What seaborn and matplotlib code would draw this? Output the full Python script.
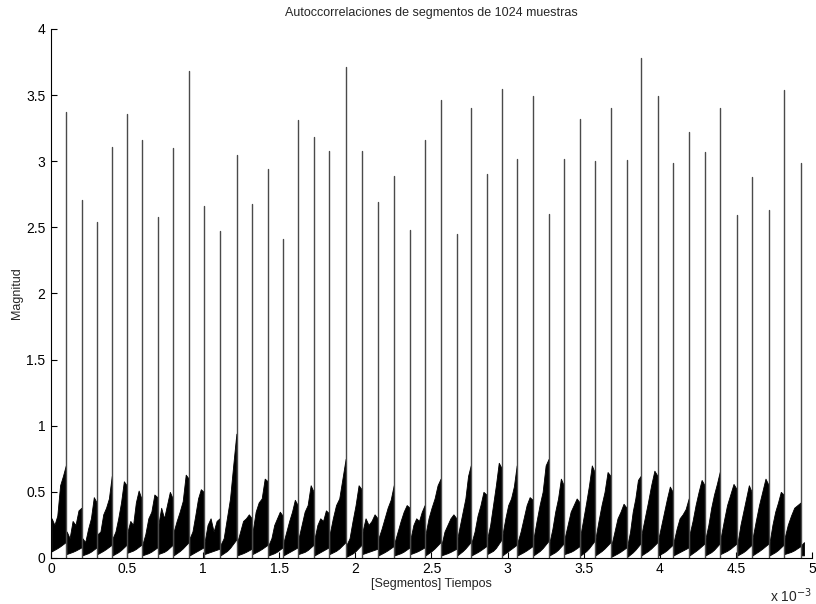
import numpy as np
import pandas as pd
import matplotlib
matplotlib.use("Agg")
import matplotlib.pyplot as plt
import seaborn as sns

# Peak positions (x 10^-3 s) and autocorrelation peak heights
peak_x = [0.099, 0.202, 0.302, 0.401, 0.499, 0.596, 0.701, 0.802, 0.907, 1.005,
          1.110, 1.220, 1.321, 1.426, 1.524, 1.623, 1.728, 1.827, 1.938, 2.043,
          2.148, 2.254, 2.359, 2.457, 2.562, 2.666, 2.760, 2.863, 2.963, 3.062,
          3.167, 3.272, 3.371, 3.476, 3.574, 3.679, 3.784, 3.876, 3.988, 4.087,
          4.192, 4.297, 4.396, 4.508, 4.606, 4.718, 4.816, 4.928]
peak_y = [3.37, 2.71, 2.54, 3.11, 3.36, 3.16, 2.58, 3.10, 3.68, 2.66,
          2.47, 3.05, 2.68, 2.94, 2.41, 3.31, 3.18, 3.08, 3.71, 3.08,
          2.69, 2.89, 2.48, 3.16, 3.46, 2.45, 3.40, 2.90, 3.55, 3.02,
          3.49, 2.60, 3.02, 3.32, 3.00, 3.40, 3.01, 3.78, 3.49, 2.99,
          3.22, 3.07, 3.40, 2.59, 2.88, 2.63, 3.54, 2.99]

# Upper envelope of the low-level part between consecutive peaks
seg_top = [
    [0.30, 0.25, 0.32, 0.55, 0.62, 0.70], [0.20, 0.15, 0.28, 0.25, 0.36, 0.38],
    [0.15, 0.12, 0.22, 0.30, 0.46, 0.42], [0.18, 0.20, 0.33, 0.38, 0.45, 0.62],
    [0.15, 0.20, 0.30, 0.42, 0.58, 0.55], [0.20, 0.28, 0.25, 0.42, 0.51, 0.45],
    [0.10, 0.18, 0.30, 0.35, 0.48, 0.46], [0.25, 0.38, 0.30, 0.40, 0.50, 0.45],
    [0.20, 0.28, 0.35, 0.43, 0.63, 0.60], [0.15, 0.20, 0.32, 0.45, 0.52, 0.50],
    [0.12, 0.25, 0.30, 0.20, 0.28, 0.30], [0.10, 0.15, 0.30, 0.45, 0.70, 0.94],
    [0.12, 0.20, 0.28, 0.30, 0.33, 0.30], [0.20, 0.35, 0.42, 0.45, 0.60, 0.58],
    [0.10, 0.15, 0.25, 0.30, 0.35, 0.32], [0.12, 0.20, 0.28, 0.35, 0.44, 0.40],
    [0.15, 0.25, 0.35, 0.40, 0.55, 0.50], [0.15, 0.25, 0.30, 0.28, 0.36, 0.34],
    [0.18, 0.30, 0.40, 0.45, 0.60, 0.75], [0.10, 0.15, 0.28, 0.40, 0.55, 0.52],
    [0.20, 0.30, 0.25, 0.28, 0.33, 0.30], [0.15, 0.22, 0.30, 0.38, 0.44, 0.55],
    [0.12, 0.20, 0.28, 0.35, 0.40, 0.38], [0.15, 0.25, 0.30, 0.28, 0.35, 0.40],
    [0.18, 0.30, 0.38, 0.45, 0.55, 0.60], [0.10, 0.20, 0.25, 0.30, 0.33, 0.30],
    [0.15, 0.25, 0.35, 0.45, 0.62, 0.70], [0.12, 0.20, 0.32, 0.40, 0.50, 0.48],
    [0.15, 0.25, 0.40, 0.55, 0.72, 0.68], [0.18, 0.30, 0.40, 0.45, 0.54, 0.70],
    [0.12, 0.20, 0.30, 0.40, 0.46, 0.44], [0.15, 0.28, 0.40, 0.50, 0.70, 0.75],
    [0.12, 0.22, 0.35, 0.45, 0.60, 0.55], [0.15, 0.25, 0.35, 0.40, 0.45, 0.42],
    [0.18, 0.30, 0.42, 0.55, 0.70, 0.65], [0.15, 0.28, 0.40, 0.50, 0.65, 0.62],
    [0.10, 0.20, 0.30, 0.35, 0.41, 0.38], [0.10, 0.20, 0.35, 0.45, 0.59, 0.62],
    [0.18, 0.30, 0.42, 0.55, 0.66, 0.62], [0.15, 0.25, 0.35, 0.45, 0.54, 0.50],
    [0.12, 0.22, 0.30, 0.33, 0.37, 0.45], [0.18, 0.28, 0.40, 0.50, 0.59, 0.55],
    [0.15, 0.25, 0.38, 0.48, 0.56, 0.65], [0.15, 0.28, 0.40, 0.48, 0.56, 0.52],
    [0.12, 0.25, 0.35, 0.45, 0.55, 0.50], [0.15, 0.28, 0.40, 0.50, 0.60, 0.55],
    [0.12, 0.25, 0.35, 0.42, 0.50, 0.48], [0.15, 0.25, 0.32, 0.38, 0.40, 0.42],
    [0.10, 0.12],
]
# Lower envelope of the same stretches
seg_bottom = [
    [0.05, 0.08, 0.12], [0.03, 0.05, 0.08], [0.02, 0.04, 0.08], [0.03, 0.06, 0.10],
    [0.02, 0.05, 0.10], [0.04, 0.06, 0.10], [0.02, 0.04, 0.08], [0.03, 0.05, 0.10],
    [0.02, 0.06, 0.12], [0.02, 0.05, 0.08], [0.03, 0.05, 0.07], [0.02, 0.06, 0.14],
    [0.02, 0.04, 0.07], [0.03, 0.06, 0.10], [0.02, 0.04, 0.08], [0.02, 0.05, 0.08],
    [0.03, 0.05, 0.10], [0.02, 0.05, 0.08], [0.03, 0.06, 0.12], [0.01, 0.04, 0.10],
    [0.03, 0.05, 0.07], [0.02, 0.05, 0.09], [0.02, 0.04, 0.08], [0.03, 0.05, 0.08],
    [0.02, 0.06, 0.12], [0.02, 0.04, 0.07], [0.02, 0.06, 0.12], [0.02, 0.05, 0.09],
    [0.03, 0.06, 0.14], [0.02, 0.06, 0.10], [0.02, 0.05, 0.09], [0.02, 0.06, 0.13],
    [0.02, 0.05, 0.11], [0.03, 0.05, 0.09], [0.02, 0.06, 0.13], [0.02, 0.06, 0.12],
    [0.01, 0.04, 0.08], [0.01, 0.05, 0.11], [0.02, 0.06, 0.12], [0.02, 0.05, 0.10],
    [0.02, 0.05, 0.08], [0.02, 0.06, 0.11], [0.02, 0.05, 0.11], [0.03, 0.06, 0.11],
    [0.02, 0.05, 0.10], [0.02, 0.06, 0.11], [0.02, 0.05, 0.10], [0.03, 0.05, 0.09],
    [0.02, 0.02],
]

x_ticks = [0, 0.5, 1, 1.5, 2, 2.5, 3, 3.5, 4, 4.5, 5]
y_ticks = [0, 0.5, 1, 1.5, 2, 2.5, 3, 3.5, 4]
x_end = 4.95

sns.set_theme(style="ticks")
plt.rcParams["font.family"] = ["Liberation Sans", "DejaVu Sans"]
plt.rcParams["xtick.direction"] = "in"
plt.rcParams["ytick.direction"] = "in"

fig = plt.figure(figsize=(8.16, 6.04), dpi=100)
ax = fig.add_axes([0.0625, 0.0762, 0.9325, 0.8758])

# Low-level stretches between peaks, filled between their envelopes
bounds = [0.0] + peak_x + [x_end]
for k, (top, bot) in enumerate(zip(seg_top, seg_bottom)):
    x0, x1 = bounds[k] + 0.004, bounds[k + 1] - 0.002
    xt = np.linspace(x0, x1, len(top))
    xb = np.linspace(x0, x1, len(bot))
    yb = np.interp(xt, xb, bot)
    ax.fill_between(xt, yb, top, color="black", linewidth=0.6, edgecolor="black")

# Autocorrelation peaks as thin vertical strokes
spikes = pd.DataFrame({
    "t": np.repeat(peak_x, 2),
    "mag": np.ravel([[0.0, h] for h in peak_y]),
    "peak": np.repeat(np.arange(len(peak_x)), 2),
})
sns.lineplot(data=spikes, x="t", y="mag", units="peak", estimator=None,
             color="#4a4a4a", linewidth=1.0, ax=ax, legend=False)

ax.set_xlim(0, 5)
ax.set_ylim(0, 4)
ax.set_xticks(x_ticks)
ax.set_xticklabels([f"{v:g}" for v in x_ticks])
ax.set_yticks(y_ticks)
ax.set_yticklabels([f"{v:g}" for v in y_ticks])
ax.tick_params(labelsize=10, length=4, width=0.8, colors="black", pad=4)
ax.tick_params(axis="x", pad=3)
sns.despine(ax=ax, top=True, right=True)
for side in ("left", "bottom"):
    ax.spines[side].set_color("black")
    ax.spines[side].set_linewidth(0.8)

ax.set_title("Autoccorrelaciones de segmentos de 1024 muestras", fontsize=9, pad=9)
ax.set_xlabel("[Segmentos] Tiempos", fontsize=9, labelpad=1)
ax.set_ylabel("Magnitud", fontsize=9, labelpad=2)
ax.text(1.0, -0.072, "x 10$^{-3}$", transform=ax.transAxes, ha="right", va="center",
        fontsize=10)

fig.savefig("out.png", dpi=100)
